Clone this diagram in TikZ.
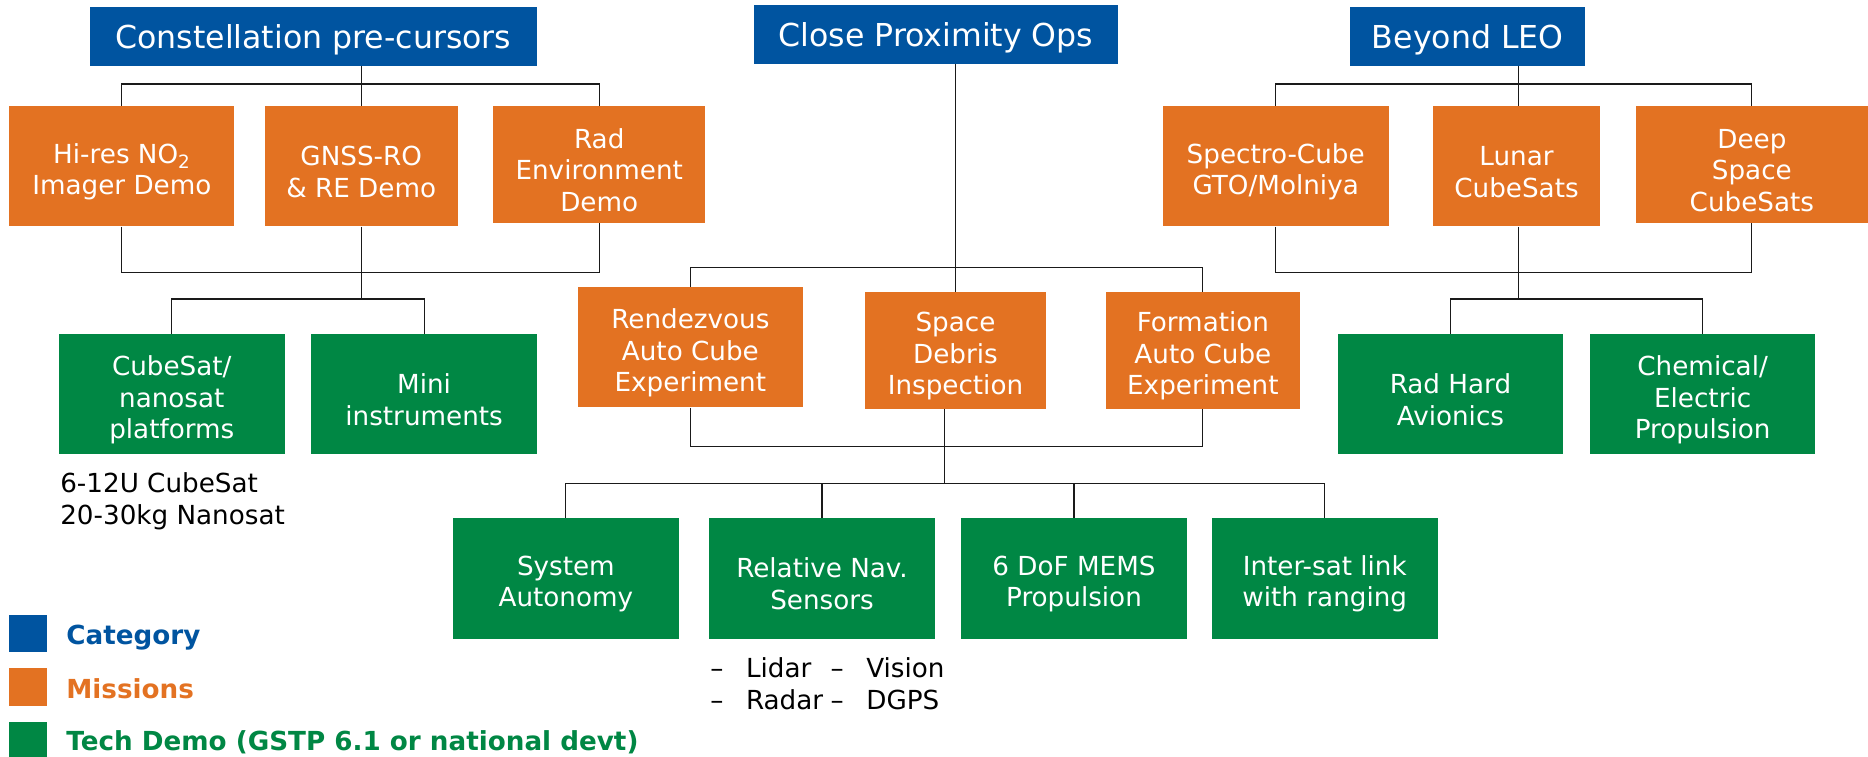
\documentclass[tikz,border=0pt]{standalone}
\usepackage{fontspec}
\setmainfont{DejaVu Sans}
\usepackage{tikz}
\usetikzlibrary{positioning,calc}
\definecolor{catc}{HTML}{0054A0}
\definecolor{misc}{HTML}{E37222}
\definecolor{techc}{HTML}{008744}
\definecolor{linec}{HTML}{1A1A1A}
\newcommand{\boxstrut}{\rule{0pt}{26pt}}
\tikzset{
  box/.style={inner sep=0pt,align=center,text=white,font=\fontsize{22}{26.5}\selectfont,minimum width=190pt,minimum height=101pt},
  cat/.style={box,fill=catc,font=\fontsize{26.5}{30}\selectfont,minimum height=49pt},
  mis/.style={box,fill=misc},
  tech/.style={box,fill=techc},
  bus/.style={draw=linec,line width=1pt},
  legbox/.style={fill=#1,minimum width=32pt,minimum height=31.5pt,inner sep=0pt},
  legtxt/.style={anchor=base west,inner sep=0pt,font=\bfseries\fontsize{22}{24}\selectfont},
  note/.style={anchor=base west,inner sep=0pt,font=\fontsize{22}{26}\selectfont},
}

\begin{document}
\begin{tikzpicture}[x=1pt,y=-1pt]
  \useasboundingbox (0,0) rectangle (1568,635);
  % categories
  \node[cat,minimum width=375pt] (cons) at (263,30.5) {\boxstrut Constellation pre-cursors};
  \node[cat,minimum width=305pt] (prox) at (785.7,29) {\boxstrut Close Proximity Ops};
  \node[cat,minimum width=197pt] (leo) at (1232,30.5) {\boxstrut Beyond LEO};
  % missions
  \node[mis,minimum width=189pt] (hires) at (102.3,139.5) {\boxstrut Hi-res NO\textsubscript{2}\\Imager Demo};
  \node[mis,minimum width=162pt] (gnss) at (303.2,139.5) {\boxstrut GNSS-RO\\\& RE Demo};
  \node[mis,minimum width=178pt,minimum height=98pt] (rad) at (503,138) {\boxstrut Rad\\Environment\\Demo};
  \node[mis,minimum width=190pt] (spectro) at (1070.8,139.5) {\boxstrut Spectro-Cube\\GTO/Molniya};
  \node[mis,minimum width=140pt] (lunar) at (1273,139.5) {\boxstrut Lunar\\CubeSats};
  \node[mis,minimum width=195pt,minimum height=98pt] (deep) at (1470.5,138) {\boxstrut Deep\\Space\\CubeSats};
  \node[mis,minimum width=189pt] (rdv) at (579.5,291.5) {\boxstrut Rendezvous\\Auto Cube\\Experiment};
  \node[mis,minimum width=152pt,minimum height=98pt] (debris) at (802,294) {\boxstrut Space\\Debris\\Inspection};
  \node[mis,minimum width=163pt,minimum height=98pt] (form) at (1009.7,294) {\boxstrut Formation\\Auto Cube\\Experiment};
  % tech demos
  \node[tech] (cube) at (144.2,331) {\boxstrut CubeSat/\\nanosat\\platforms};
  \node[tech] (mini) at (356,331) {\boxstrut Mini\\instruments};
  \node[tech,minimum width=189pt] (radhard) at (1217.5,331) {\boxstrut Rad Hard\\Avionics};
  \node[tech,minimum width=189pt] (chem) at (1429.2,331) {\boxstrut Chemical/\\Electric\\Propulsion};
  \node[tech] (sysaut) at (475,485.5) {\boxstrut System\\Autonomy};
  \node[tech] (relnav) at (690,485.5) {\boxstrut Relative Nav.\\Sensors};
  \node[tech,minimum width=189pt] (mems) at (901.5,485.5) {\boxstrut 6 DoF MEMS\\Propulsion};
  \node[tech] (isl) at (1112,485.5) {\boxstrut Inter-sat link\\with ranging};
  % notes
  \node[note] (size1) at (50.4,413.6) {6-12U CubeSat};
  \node[note] (size2) at (50.4,440) {20-30kg Nanosat};
  \node[note] (sens1) at (596,568.6) {\makebox[30pt][l]{--}\makebox[71pt][l]{Lidar}\makebox[30pt][l]{--}Vision};
  \node[note] (sens2) at (596,595.4) {\makebox[30pt][l]{--}\makebox[71pt][l]{Radar}\makebox[30pt][l]{--}DGPS};

  % constellation tree
  \coordinate (cjoin) at (303.2,70.5);
  \coordinate (cbot) at (303.2,228.6);
  \coordinate (ctech) at (303.2,251);
  \draw[bus] (cons.south -| gnss.north) -- (gnss.north);
  \draw[bus] (hires.north) |- (cjoin) -| (rad.north);
  \draw[bus] (hires.south) |- (cbot) -| (rad.south);
  \draw[bus] (gnss.south) -- (ctech);
  \draw[bus] (cube.north) |- (ctech) -| (mini.north);
  % proximity tree
  \coordinate (pjoin) at (802,224.7);
  \coordinate (pbot) at (793,375);
  \coordinate (ptech) at (793,406);
  \draw[bus] (prox.south -| debris.north) -- (debris.north);
  \draw[bus] (rdv.north) |- (pjoin) -| (form.north);
  \draw[bus] (rdv.south) |- (pbot) -| (form.south);
  \draw[bus] ([xshift=-9pt]debris.south) -- (ptech);
  \draw[bus] (sysaut.north) |- (ptech) -| (isl.north);
  \draw[bus] (relnav.north) -- (relnav.north |- ptech);
  \draw[bus] (mems.north) -- (mems.north |- ptech);
  % beyond LEO tree
  \coordinate (bjoin) at (1274.8,70.5);
  \coordinate (bbot) at (1274.8,228.6);
  \coordinate (btech) at (1274.8,251);
  \draw[bus] (leo.south -| bjoin) -- (bjoin |- lunar.north);
  \draw[bus] (spectro.north) |- (bjoin) -| (deep.north);
  \draw[bus] (spectro.south) |- (bbot) -| (deep.south);
  \draw[bus] (bjoin |- lunar.south) -- (btech);
  \draw[bus] (radhard.north) |- (btech) -| (chem.north);

  % legend
  \node[legbox=catc] (kcat) at (23.4,531.7) {};
  \node[legbox=misc] (kmis) at (23.4,576.5) {};
  \node[legbox=techc,minimum height=29pt] (ktech) at (23.4,620.5) {};
  \node[legtxt,text=catc] (tcat) at (55.5,541.4) {Category};
  \node[legtxt,text=misc] (tmis) at (55.5,586.2) {Missions};
  \node[legtxt,text=techc] (ttech) at (55.5,630) {Tech Demo (GSTP 6.1 or national devt)};
\end{tikzpicture}
\end{document}
